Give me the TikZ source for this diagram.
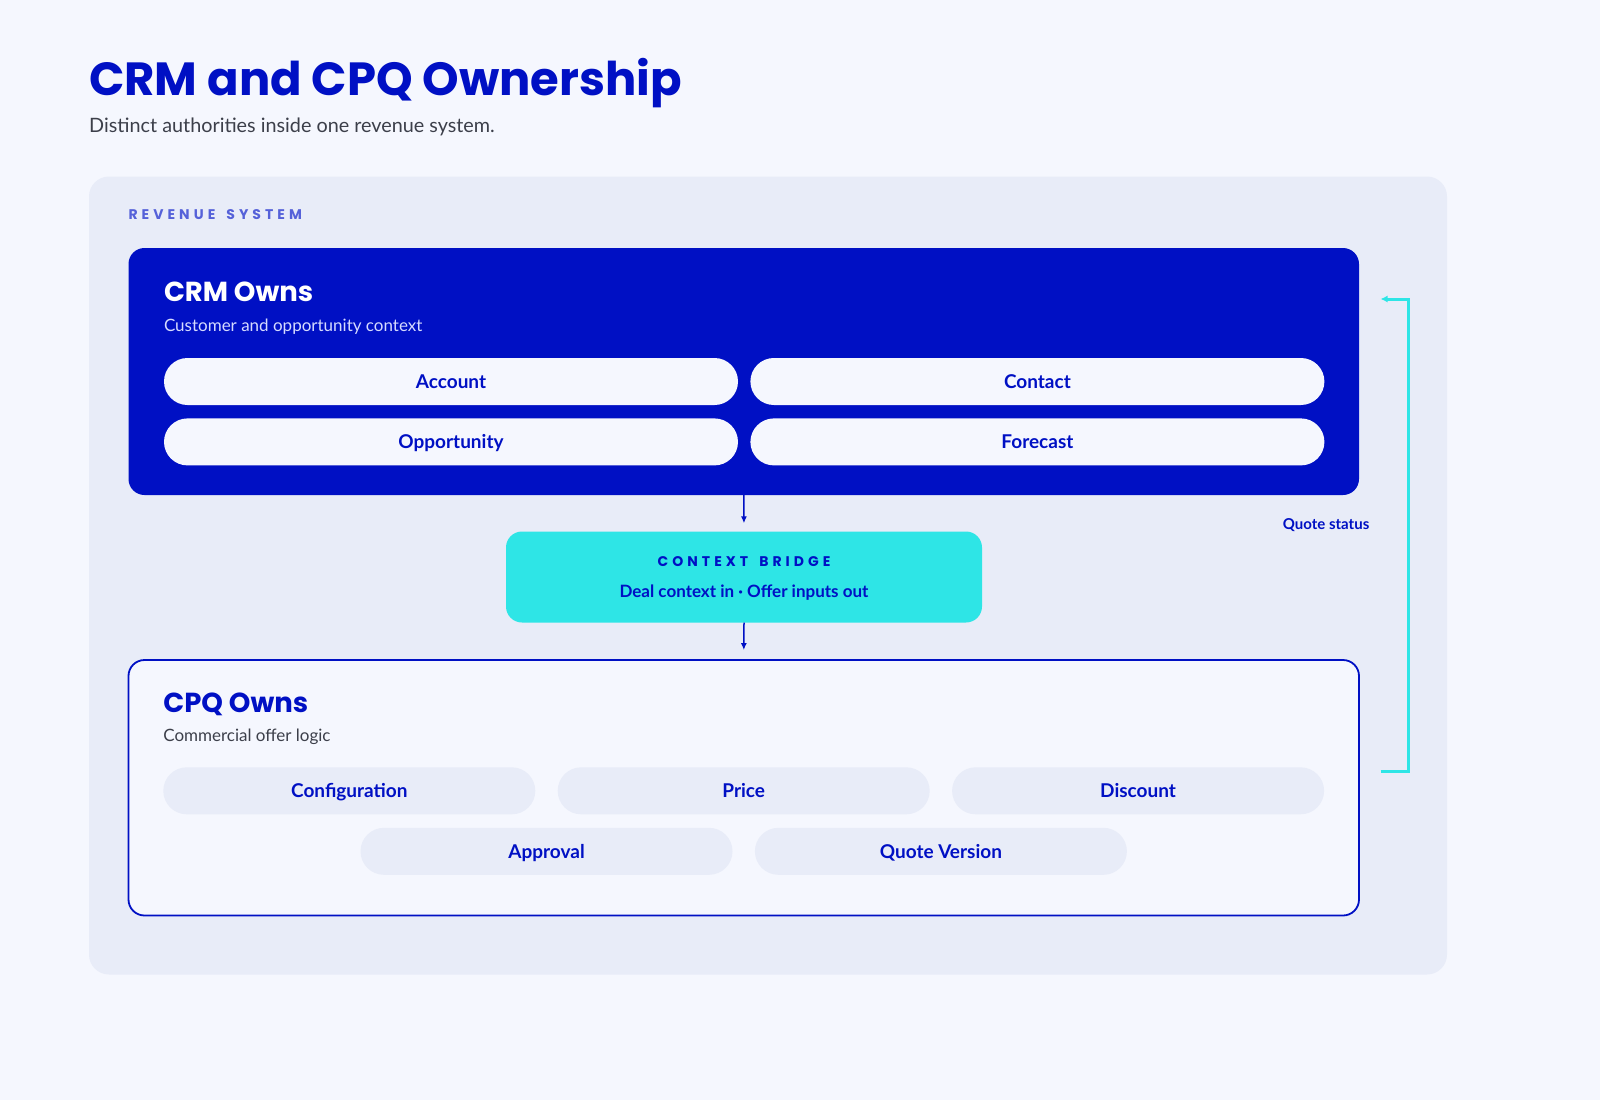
\documentclass[tikz,border=0pt]{standalone}
\usepackage{fontspec}
\setmainfont{Lato}
\newfontfamily\headfont{Poppins}
\newfontfamily\trackfont{Poppins}[LetterSpace=29]
\usetikzlibrary{positioning,calc,arrows.meta}
\definecolor{pagebg}{HTML}{F5F7FE}
\definecolor{panelbg}{HTML}{E8ECF8}
\definecolor{deep}{HTML}{0010C4}
\definecolor{bridgecyan}{HTML}{2EE5E6}
\definecolor{tracked}{HTML}{5561D9}
\definecolor{bodygray}{HTML}{3C3F4A}
\definecolor{lilac}{HTML}{D6DBFF}
\tikzset{
	box/.style={rectangle, rounded corners=16pt, inner sep=0pt},
	pill/.style={rectangle, rounded corners=23.5pt, minimum height=47pt, inner sep=0pt, text height=13.5pt, text depth=0pt, font=\fontsize{19}{23}\selectfont\bfseries, text=deep},
	crmpill/.style={pill, fill=pagebg, minimum width=574pt},
	cpqpill/.style={pill, fill=panelbg, minimum width=372pt},
	heading/.style={anchor=base west, inner sep=0pt, font=\headfont\fontsize{27.5}{32}\selectfont\bfseries},
	blurb/.style={anchor=base west, inner sep=0pt, font=\fontsize{17}{20}\selectfont},
	capslabel/.style={inner sep=0pt, font=\trackfont\fontsize{14}{16}\selectfont\bfseries},
	flow/.style={draw=deep, line width=1.5pt, -{Latex[length=7pt,width=6pt]}},
	loopback/.style={draw=bridgecyan, line width=3pt, -{Latex[length=7pt,width=7pt]}}
}
\begin{document}
\begin{tikzpicture}[x=1pt, y=-1pt]
	\fill[pagebg] (0,0) rectangle (1600,1100);
	\useasboundingbox (0,0) rectangle (1600,1100);
	\node[anchor=base west, inner sep=0pt, text=deep, font=\headfont\fontsize{46.5}{56}\selectfont\bfseries] (title) at (89,95) {CRM and CPQ Ownership};
	\node[anchor=base west, inner sep=0pt, text=bodygray, font=\fontsize{19.8}{24}\selectfont] (subtitle) at (89,132) {Distinct authorities inside one revenue system.};
	\node[box, rounded corners=20pt, fill=panelbg, minimum width=1358pt, minimum height=798pt] (panel) at (768,575.5) {};
	\node[capslabel, anchor=base west, text=tracked] (rev) at ([shift={(39.5,43)}]panel.north west) {REVENUE\hspace{4pt} SYSTEM};
	\node[box, fill=deep, minimum width=1230.5pt, minimum height=247pt] (crm) at (743.75,371.5) {};
	\node[heading, text=white] (crmhead) at ([shift={(35.5,54)}]crm.north west) {CRM Owns};
	\node[blurb, text=lilac] (crmsub) at ([shift={(35.5,84)}]crm.north west) {Customer and opportunity context};
	\node[crmpill, anchor=north west] (acct) at ([shift={(35.5,110)}]crm.north west) {Account};
	\node[crmpill, right=12pt of acct] (cont) {Contact};
	\node[crmpill, below=13pt of acct] (opp) {Opportunity};
	\node[crmpill, below=13pt of cont] (fcst) {Forecast};
	\node[box, fill=bridgecyan, minimum width=476pt, minimum height=91pt] (bridge) at (744,577) {};
	\node[capslabel, anchor=base, text=deep] (bridgehead) at ([shift={(0,35.5)}]bridge.north) {CONTEXT\hspace{4pt} BRIDGE};
	\node[anchor=base, inner sep=0pt, text=deep, font=\fontsize{17}{20}\selectfont\bfseries] (bridgesub) at ([shift={(0,66.5)}]bridge.north) {Deal context in · Offer inputs out};
	\node[box, draw=deep, line width=1.8pt, fill=pagebg, minimum width=1230.5pt, minimum height=255.5pt] (cpq) at (743.75,787.75) {};
	\node[heading, text=deep] (cpqhead) at ([shift={(35.5,53)}]cpq.north west) {CPQ Owns};
	\node[blurb, text=bodygray] (cpqsub) at ([shift={(35.5,82)}]cpq.north west) {Commercial offer logic};
	\node[cpqpill, anchor=north west] (cfg) at ([shift={(35.5,108)}]cpq.north west) {Configuration};
	\node[cpqpill, right=22pt of cfg] (price) {Price};
	\node[cpqpill, right=22pt of price] (disc) {Discount};
	\node[cpqpill] (appr) at ($(cfg)!.5!(price)+(0,60.5)$) {Approval};
	\node[cpqpill] (qver) at ($(price)!.5!(disc)+(0,60.5)$) {Quote Version};
	\draw[flow, shorten >=8pt] (crm.south) -- (bridge.north);
	\draw[flow, shorten >=9pt] (bridge.south) -- (cpq.north);
	\coordinate (qsfrom) at (1380.5,771.5);
	\coordinate (qsto) at (1380.5,299);
	\draw[loopback] (qsfrom) -- ++(27.5,0) |- (qsto);
	\node[anchor=east, inner sep=0pt, text=deep, font=\fontsize{15}{18}\selectfont\bfseries] (qs) at (1369.5,525.5) {Quote status};
\end{tikzpicture}
\end{document}
